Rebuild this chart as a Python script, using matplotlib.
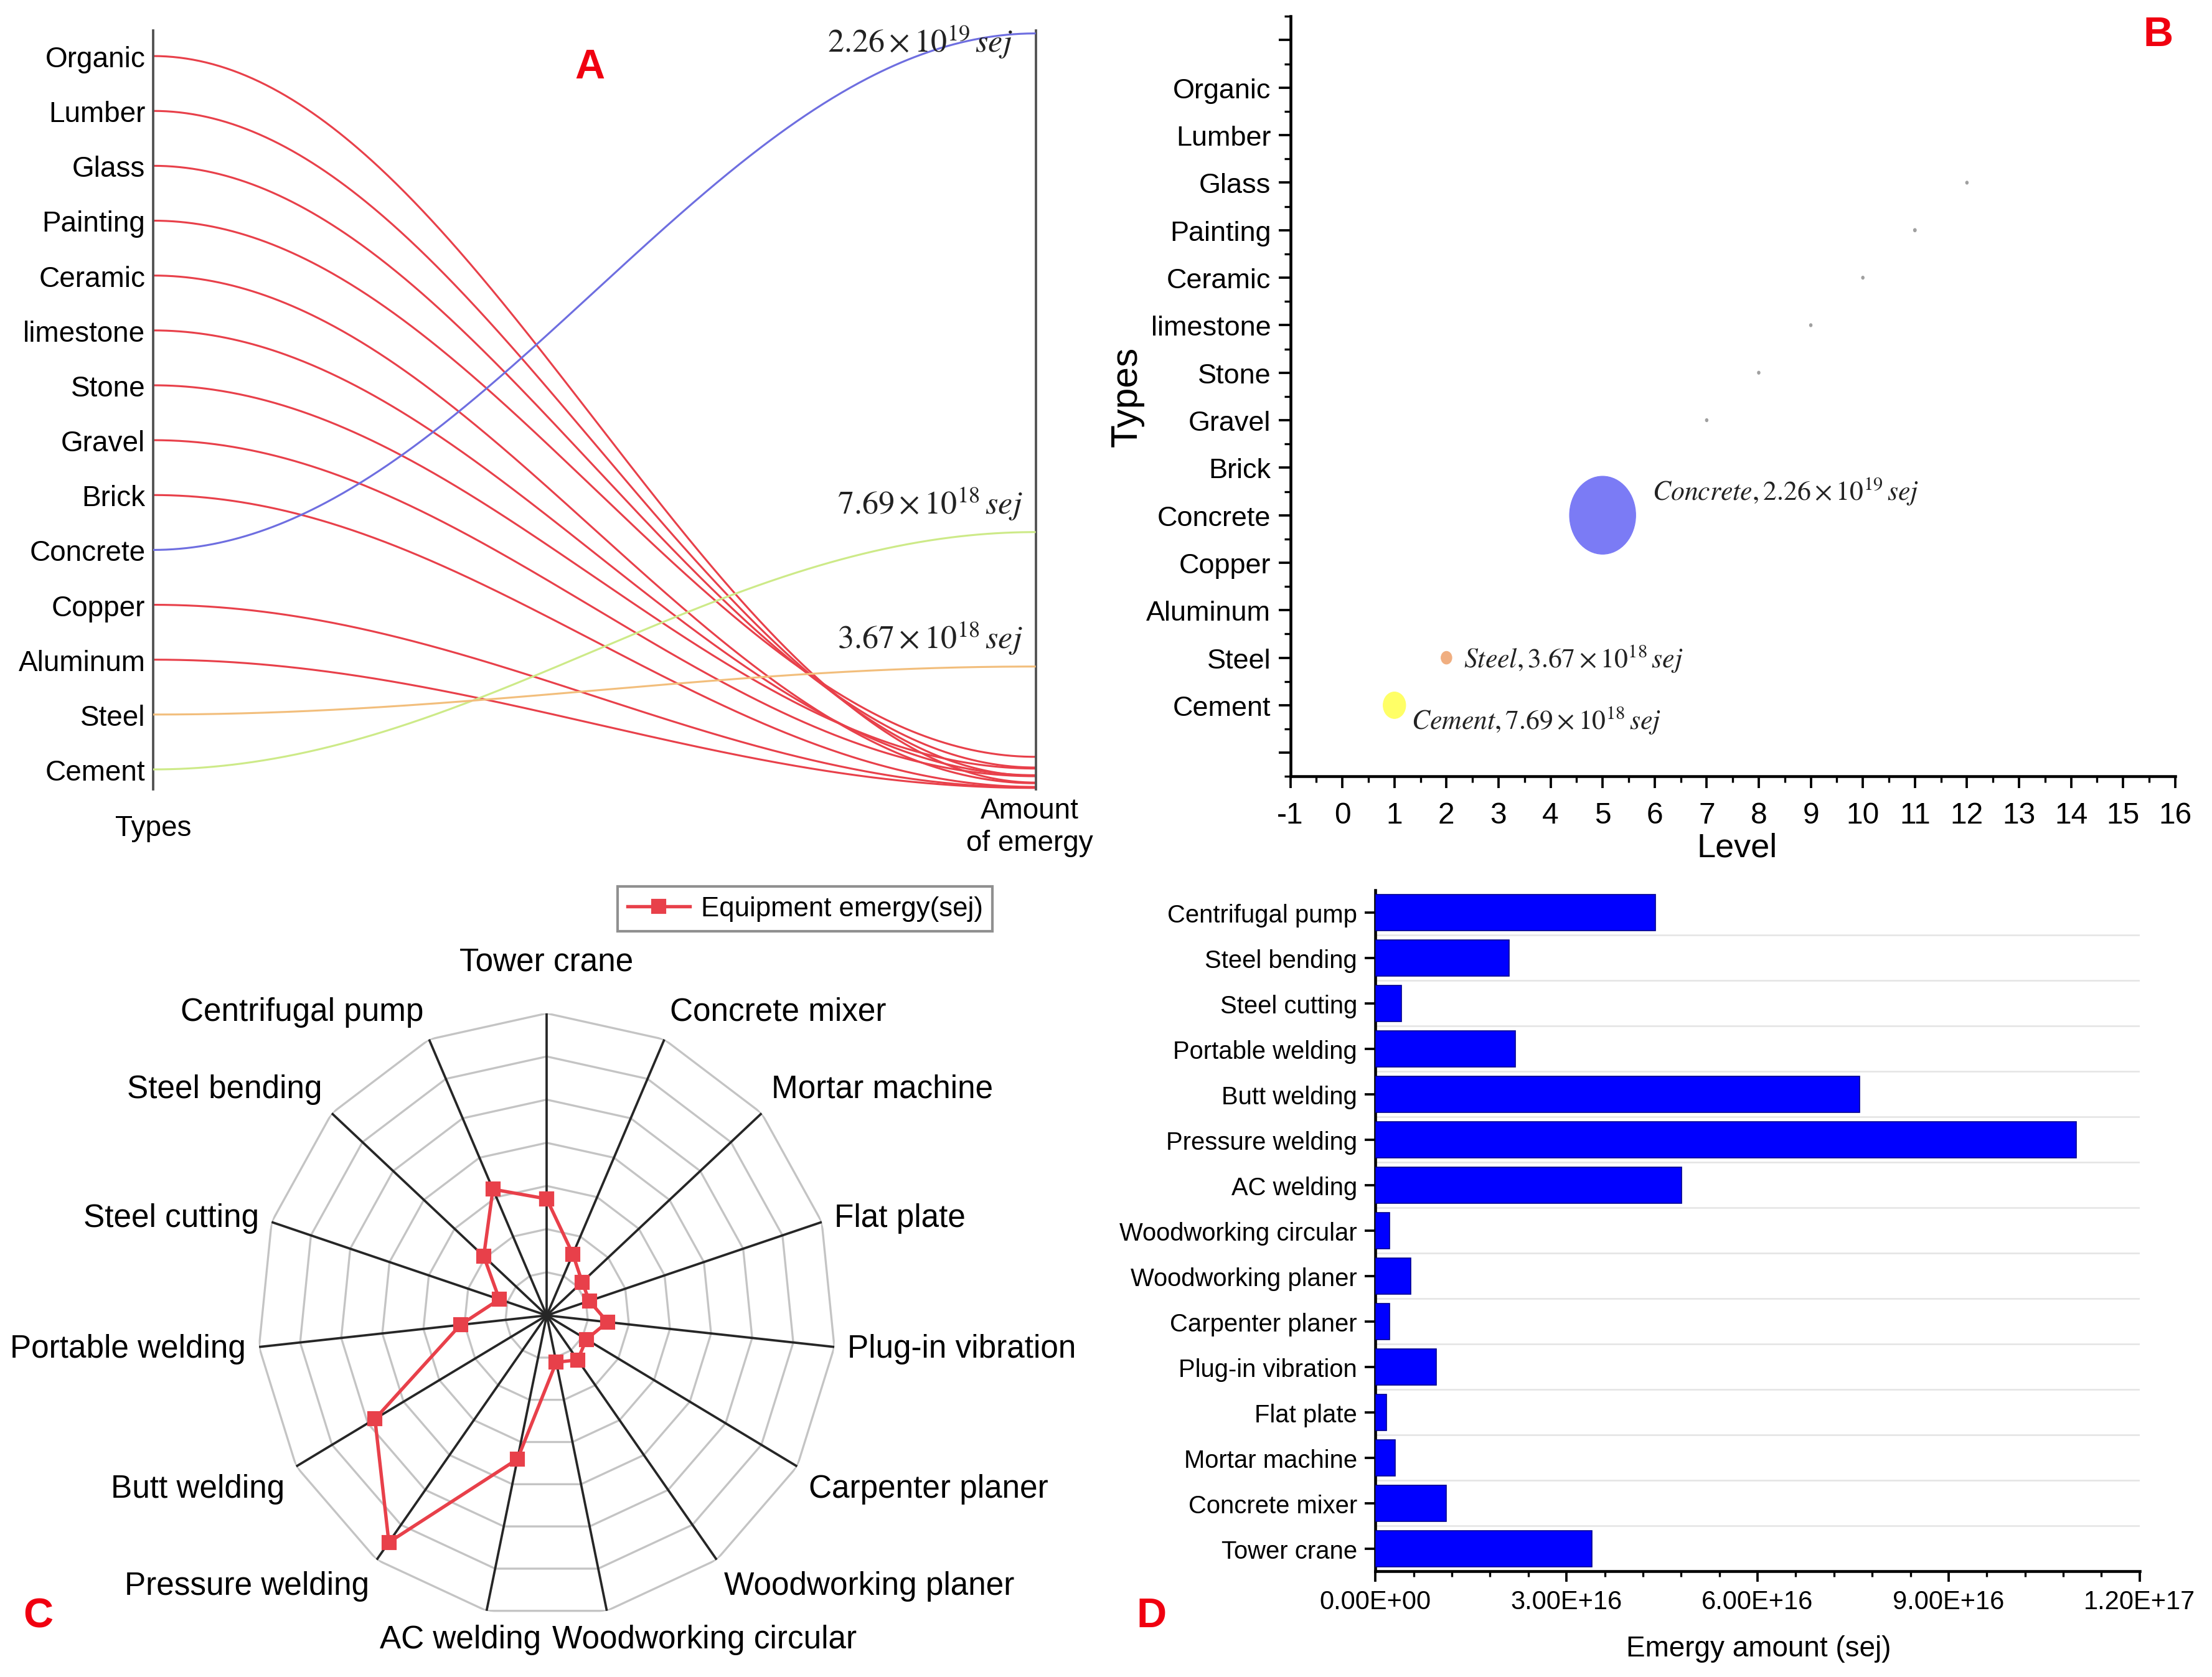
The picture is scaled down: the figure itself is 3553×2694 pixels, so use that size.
import numpy as np
import matplotlib
matplotlib.use('Agg')
import matplotlib.pyplot as plt
from matplotlib.patches import Ellipse
from matplotlib.ticker import FixedLocator, MultipleLocator

plt.rcParams['font.family'] = ['Liberation Sans', 'DejaVu Sans']
plt.rcParams['mathtext.fontset'] = 'stix'

# ---------------- data ----------------
# building materials, bottom -> top on the category axes
materials = ['Cement', 'Steel', 'Aluminum', 'Copper', 'Concrete', 'Brick', 'Gravel',
             'Stone', 'limestone', 'Ceramic', 'Painting', 'Glass', 'Lumber', 'Organic']
material_emergy = [7.69e18, 3.67e18, 0.04e18, 0.05e18, 2.26e19, 0.07e18, 0.39e18,
                   0.62e18, 0.42e18, 0.18e18, 0.97e18, 0.65e18, 0.40e18, 0.20e18]
material_level = [1, 2, None, None, 5, None, 7, 8, 9, 10, 11, 12, None, None]

# construction equipment (radar clockwise from top == bars bottom -> top)
equipment = ['Tower crane', 'Concrete mixer', 'Mortar machine', 'Flat plate',
             'Plug-in vibration', 'Carpenter planer', 'Woodworking planer',
             'Woodworking circular', 'AC welding', 'Pressure welding', 'Butt welding',
             'Portable welding', 'Steel cutting', 'Steel bending', 'Centrifugal pump']
equipment_emergy = [3.40e16, 1.11e16, 0.31e16, 0.17e16, 0.96e16, 0.22e16, 0.55e16,
                    0.22e16, 4.81e16, 11.0e16, 7.60e16, 2.20e16, 0.41e16, 2.10e16, 4.40e16]

level_ticks = list(range(-1, 17))
emergy_ticks = [0.0, 3e16, 6e16, 9e16, 1.2e17]
radar_rings = [0, 2e16, 4e16, 6e16, 8e16, 1e17, 1.2e17]
radar_min = -2e16

# ---------------- styles ----------------
line_color = {'Cement': '#CDEA88', 'Steel': '#F2BE7C', 'Concrete': '#6E6EE0'}
bubble_color = {'Cement': '#FFFF66', 'Steel': '#F0AE80', 'Concrete': '#7B7BF5'}
RED = '#E8404A'


def sci(v):
    e = int(np.floor(np.log10(v)))
    m = v / 10 ** e
    return rf"{m:.2f}\times10^{{{e}}}"


fig = plt.figure(figsize=(3553 / 300, 2695 / 300), dpi=300)

# ================= Panel A : parallel curves =================
axA = fig.add_axes([0.06923, 0.52916, 0.3990, 0.45224])
cat_lo, cat_hi = -0.362, 13.464
vmax_mat = max(material_emergy)
v_hi = vmax_mat * 535 / 533
t = np.linspace(0, 1, 400)
ease = (1 - np.cos(np.pi * t)) / 2
cat_pos = [(i - cat_lo) / (cat_hi - cat_lo) for i in range(len(materials))]
for i, (m, v) in enumerate(zip(materials, material_emergy)):
    yl = cat_pos[i]
    yr = v / v_hi
    col = line_color.get(m, RED)
    axA.plot(t, yl + (yr - yl) * ease, color=col, lw=0.75,
             zorder=3 if m in line_color else 2, solid_capstyle='butt')
    if m in line_color:
        if yr + 0.06 > 1:
            axA.text(0.974, yr - 0.011, rf"${sci(v)}\,\mathit{{sej}}$", ha='right',
                     va='center', fontsize=12.5, color='#222222', zorder=4)
        else:
            axA.text(0.985, yr + 0.014, rf"${sci(v)}\,\mathit{{sej}}$", ha='right',
                     va='bottom', fontsize=12.5, color='#222222', zorder=4)
axA.set_xlim(0, 1)
axA.set_ylim(0, 1)
axA.set_xticks([])
axA.set_yticks(cat_pos)
axA.set_yticklabels(materials, fontsize=11)
axA.tick_params(axis='y', length=0, pad=3)
for s in ['top', 'bottom']:
    axA.spines[s].set_visible(False)
for s in ['left', 'right']:
    axA.spines[s].set_color('#505050')
    axA.spines[s].set_linewidth(0.9)
axA.patch.set_alpha(0)
fig.text(0.0692, 0.5063, 'Types', ha='center', va='center', fontsize=11)
fig.text(0.4654, 0.5068, 'Amount\nof emergy', ha='center', va='center', fontsize=11,
         linespacing=1.25)

# ================= Panel B : bubbles =================
axB = fig.add_axes([0.58333, 0.53677, 0.4000, 0.45309])
axB.set_xlim(-1, 16)
axB.set_ylim(-1.5, 14.5)
for i, (m, v, lev) in enumerate(zip(materials, material_emergy, material_level)):
    if lev is None:
        continue
    w = v / vmax_mat * 1.27
    h = v / vmax_mat * 1.64
    col = bubble_color.get(m, '#A0A0A0')
    axB.add_patch(Ellipse((lev, i), max(w, 0.05), max(h, 0.065), facecolor=col,
                          edgecolor=col, lw=0.3, zorder=3))
label_offsets = {'Concrete': (0.95, 0.52), 'Steel': (0.33, 0.0), 'Cement': (0.32, -0.3)}
for i, (m, v, lev) in enumerate(zip(materials, material_emergy, material_level)):
    if m in label_offsets:
        dx, dy = label_offsets[m]
        axB.text(lev + dx, i + dy, rf"$\mathit{{{m}}},{sci(v)}\,\mathit{{sej}}$",
                 ha='left', va='center', fontsize=10.5, color='#222222')
axB.xaxis.set_major_locator(FixedLocator(level_ticks))
axB.xaxis.set_minor_locator(MultipleLocator(0.5))
axB.set_xticklabels([str(v) for v in level_ticks], fontsize=11.5)
ymaj = list(range(-1, len(materials) + 1))
axB.yaxis.set_major_locator(FixedLocator(ymaj))
axB.yaxis.set_minor_locator(MultipleLocator(0.5))
axB.set_yticklabels([materials[k] if 0 <= k < len(materials) else '' for k in ymaj],
                    fontsize=10.8)
axB.tick_params(which='major', direction='out', length=4.5, width=0.9, pad=3)
axB.tick_params(which='minor', direction='out', length=2.5, width=0.8)
axB.tick_params(axis='x', which='major', pad=5)
for s in ['top', 'right']:
    axB.spines[s].set_visible(False)
for s in ['left', 'bottom']:
    axB.spines[s].set_linewidth(1.1)
fig.text(0.5096, 0.7633, 'Types', rotation=90, ha='center', va='center', fontsize=14.5)
fig.text(0.7853, 0.4945, 'Level', ha='center', va='center', fontsize=13)

# ================= Panel C : radar =================
axC = fig.add_axes([0.1164, 0.0355, 0.2615, 0.3601], projection='polar')
axC.set_aspect('auto')
axC.set_theta_zero_location('N')
axC.set_theta_direction(-1)
n = len(equipment)
theta = np.arange(n) * 2 * np.pi / n
th_closed = np.append(theta, theta[0])
axC.set_ylim(radar_min, radar_rings[-1])
axC.grid(False)
axC.spines['polar'].set_visible(False)
axC.set_xticks([])
axC.set_yticks([])
for rv in radar_rings:
    axC.plot(th_closed, [rv] * (n + 1), color='#C4C4C4', lw=0.8, zorder=1)
for th in theta:
    axC.plot([th, th], [radar_min, radar_rings[-1]], color='#262626', lw=0.9, zorder=2)
vals_closed = np.append(equipment_emergy, equipment_emergy[0])
radar_line, = axC.plot(th_closed, vals_closed, color=RED, lw=1.3, marker='s', ms=4.6,
                       mfc=RED, mec=RED, zorder=5, clip_on=False,
                       label='Equipment emergy(sej)')
for th, name in zip(theta, equipment):
    s, c = np.sin(th), np.cos(th)
    rho = 1.12 if c > 0.99 else 1.045
    x = 0.5 + 0.5 * rho * s
    y = 0.5 + 0.5 * rho * c
    if abs(s) < 0.05:
        ha = 'center'
    elif s > 0:
        ha = 'left'
    else:
        ha = 'right'
    if abs(s) < 0.3 and c < 0:
        x = 0.5 + (0.01 if s > 0 else -0.01)
    if c > 0.6:
        va = 'bottom'
    elif c < -0.4:
        va = 'top'
    else:
        va = 'center'
    axC.text(x, y, name, transform=axC.transAxes, ha=ha, va=va, fontsize=12.3)
fig.legend(handles=[radar_line], loc='center', bbox_to_anchor=(0.3640, 0.4580),
           fontsize=10.5, frameon=True, fancybox=False, edgecolor='#909090',
           framealpha=1, handlelength=2.3, borderpad=0.35, handletextpad=0.4)

# ================= Panel D : bars =================
axD = fig.add_axes([0.6218, 0.0630, 0.3455, 0.4062])
ypos = np.arange(n)
axD.barh(ypos, equipment_emergy, height=0.8, color='#0000FF', edgecolor='#000090',
         lw=0.4, zorder=3)
axD.set_xlim(emergy_ticks[0], emergy_ticks[-1])
axD.set_ylim(-0.5, n - 0.5)
for yy in ypos[:-1] + 0.5:
    axD.axhline(yy, color='#E4E4E4', lw=0.6, zorder=0)
axD.set_yticks(ypos)
axD.set_yticklabels(equipment, fontsize=9.6)
axD.set_xticks(emergy_ticks)
axD.set_xticklabels([f"{v:.2E}" for v in emergy_ticks], fontsize=10)
axD.xaxis.set_minor_locator(MultipleLocator(6e15))
axD.tick_params(which='major', direction='out', length=4, width=0.9, pad=3)
axD.tick_params(which='minor', direction='out', length=2.2, width=0.8)
for s in ['top', 'right']:
    axD.spines[s].set_visible(False)
for s in ['left', 'bottom']:
    axD.spines[s].set_linewidth(1.1)
fig.text(0.7949, 0.0169, 'Emergy amount (sej)', ha='center', va='center', fontsize=11)

# ================= panel letters =================
for lab, x, y in [('A', 0.2667, 0.9594), ('B', 0.9756, 0.9789),
                  ('C', 0.0173, 0.0363), ('D', 0.5205, 0.0363)]:
    fig.text(x, y, lab, color='#F00010', fontsize=16, fontweight='bold',
             ha='center', va='center')

fig.savefig('out.png', dpi=300, facecolor='white')
